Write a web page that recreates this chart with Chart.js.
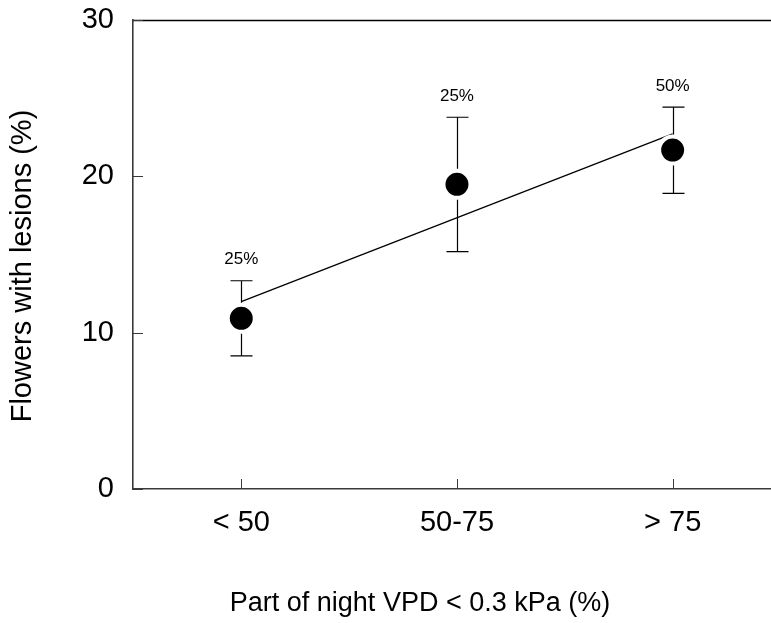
<!DOCTYPE html>
<html>
<head>
<meta charset="utf-8">
<script src="https://cdn.jsdelivr.net/npm/chart.js@4.4.0/dist/chart.umd.min.js"></script>
<style>
  html, body { margin: 0; padding: 0; background: #fff; overflow: hidden; }
  #wrap { width: 771px; height: 623px; }
</style>
</head>
<body>
<div id="wrap"><canvas id="lesionChart"></canvas></div>
<script>
// values
const categories = ["< 50", "50-75", "> 75"];
const means = [10.92, 19.49, 21.68];
const errHigh = [13.32, 23.78, 24.43];
const errLow = [8.51, 15.18, 18.91];
const shares = ["25%", "25%", "50%"];
const fitLine = [11.98, 22.72];   // regression line at first and last category
const yTicks = [0, 10, 20, 30];

const FONT = "'Liberation Sans', Arial, sans-serif";
const AXIS = "#3a3a3a";

// inward ticks, error bars, top frame line, share labels and axis titles
const extras = {
  id: "extras",
  beforeDatasetsDraw(chart) {
    const { ctx, chartArea, scales: { x, y } } = chart;
    ctx.save();
    ctx.strokeStyle = "#000";
    ctx.lineWidth = 1.3;
    ctx.beginPath();
    ctx.moveTo(chartArea.left, chartArea.top + 0.5);
    ctx.lineTo(chart.width, chartArea.top + 0.5);
    ctx.stroke();

    ctx.strokeStyle = AXIS;
    ctx.lineWidth = 1;
    ctx.beginPath();
    yTicks.forEach((v) => {
      const py = Math.round(y.getPixelForValue(v)) + 0.5;
      ctx.moveTo(chartArea.left, py); ctx.lineTo(chartArea.left + 10, py);
    });
    categories.forEach((c, i) => {
      const px = Math.round(x.getPixelForValue(i)) + 0.5;
      ctx.moveTo(px, chartArea.bottom); ctx.lineTo(px, chartArea.bottom - 10);
    });
    ctx.stroke();

    ctx.strokeStyle = "#000";
    ctx.lineWidth = 1.2;
    means.forEach((m, i) => {
      const px = Math.round(x.getPixelForValue(i)) + 0.5;
      const hi = y.getPixelForValue(errHigh[i]);
      const lo = y.getPixelForValue(errLow[i]);
      ctx.beginPath();
      ctx.moveTo(px, hi); ctx.lineTo(px, lo);
      ctx.moveTo(px - 11, hi); ctx.lineTo(px + 11, hi);
      ctx.moveTo(px - 11, lo); ctx.lineTo(px + 11, lo);
      ctx.stroke();
    });
    ctx.restore();
  },
  afterDraw(chart) {
    const { ctx, scales: { x, y } } = chart;
    ctx.save();
    ctx.fillStyle = "#000";
    ctx.textAlign = "center";
    ctx.textBaseline = "middle";
    ctx.font = "17px " + FONT;
    shares.forEach((s, i) => {
      ctx.fillText(s, x.getPixelForValue(i), y.getPixelForValue(errHigh[i]) - 21);
    });

    ctx.font = "27px " + FONT;
    ctx.fillText("Part of night VPD < 0.3 kPa (%)", 420, 604);
    ctx.font = "29px " + FONT;
    ctx.translate(23, 266);
    ctx.rotate(-Math.PI / 2);
    ctx.fillText("Flowers with lesions (%)", 0, 0);
    ctx.restore();
  }
};

new Chart(document.getElementById("lesionChart"), {
  type: "scatter",
  data: {
    datasets: [
      {
        label: "means",
        data: means.map((v, i) => ({ x: i, y: v })),
        pointRadius: 13.5,
        pointHoverRadius: 13.5,
        pointBackgroundColor: "#000",
        pointBorderColor: "#fff",
        pointBorderWidth: 4,
        pointHoverBorderWidth: 4,
        order: 0
      },
      {
        type: "line",
        label: "fit",
        data: fitLine.map((v, i) => ({ x: i * (categories.length - 1), y: v })),
        borderColor: "#000",
        borderWidth: 1.3,
        pointRadius: 0,
        fill: false,
        order: 1
      }
    ]
  },
  options: {
    responsive: true,
    maintainAspectRatio: false,
    animation: false,
    layout: { autoPadding: false, padding: { top: 20, right: 0, left: 0, bottom: 0 } },
    plugins: { legend: { display: false }, tooltip: { enabled: false } },
    scales: {
      x: {
        type: "linear",
        min: -0.502,
        max: 2.456,
        afterBuildTicks: (s) => { s.ticks = categories.map((c, i) => ({ value: i })); },
        afterFit: (s) => { s.height = 134; s.paddingLeft = 0; s.paddingRight = 0; },
        ticks: {
          callback: (v) => categories[v],
          color: "#000",
          font: { family: FONT, size: 29 },
          padding: 17,
          maxRotation: 0,
          autoSkip: false
        },
        grid: { drawOnChartArea: false, drawTicks: false },
        border: { color: AXIS, width: 1.6 }
      },
      y: {
        min: 0,
        max: 30,
        afterBuildTicks: (s) => { s.ticks = yTicks.map((v) => ({ value: v })); },
        afterFit: (s) => { s.width = 133; s.paddingTop = 0; s.paddingBottom = 0; },
        ticks: {
          color: "#000",
          font: { family: FONT, size: 29 },
          padding: 19
        },
        grid: { drawOnChartArea: false, drawTicks: false },
        border: { color: AXIS, width: 1.6 }
      }
    }
  },
  plugins: [extras]
});
</script>
</body>
</html>
